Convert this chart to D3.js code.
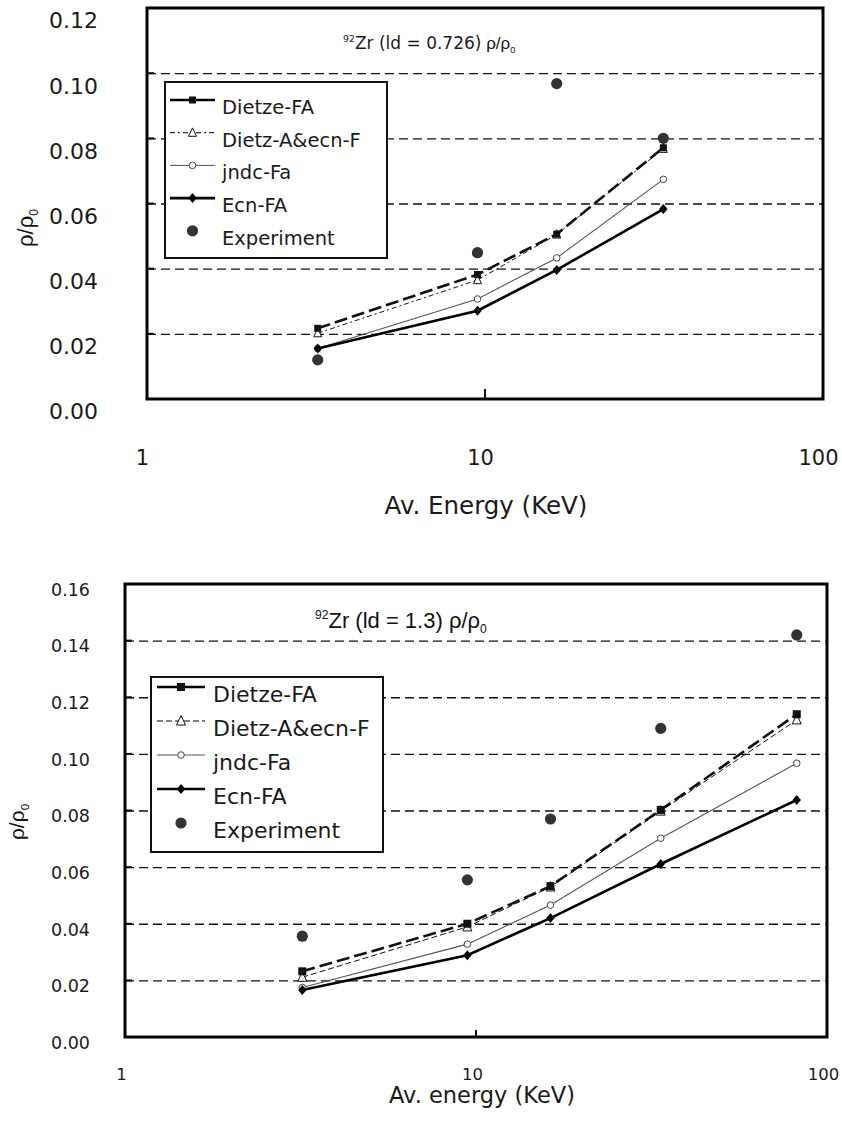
<!DOCTYPE html>
<html>
<head>
<meta charset="utf-8">
<script src="https://cdn.jsdelivr.net/npm/d3@7"></script>
<style>
  html, body { margin: 0; padding: 0; background: #fff; }
  svg { display: block; }
  .cg { font-family: "DejaVu Sans", sans-serif; fill: #1a1a1a; }
  .ar { font-family: "Liberation Sans", Arial, sans-serif; fill: #111; }
</style>
</head>
<body>
<svg id="chart" width="842" height="1122"></svg>
<script>
// ---- data: relative level density vs. average neutron energy, 92Zr ----
const xTicks = [1, 10, 100];

// Panel A: ld = 0.726
const energyA = [3.2, 9.5, 16.3, 33.7];
const dietzeFA_A = [0.0217, 0.0382, 0.0506, 0.0771];
const dietzA_A   = [0.0202, 0.0365, 0.0505, 0.0768];
const jndc_A     = [0.0155, 0.0307, 0.0433, 0.0674];
const ecn_A      = [0.0155, 0.0271, 0.0396, 0.0583];
const experiment_A = [0.0120, 0.0449, 0.0968, 0.0800];
const yTicksA = [0, 0.02, 0.04, 0.06, 0.08, 0.10, 0.12];

// Panel B: ld = 1.3
const energyB = [3.2, 9.45, 16.3, 33.6, 82];
const dietzeFA_B = [0.0232, 0.0400, 0.0533, 0.0802, 0.1140];
const dietzA_B   = [0.0211, 0.0389, 0.0530, 0.0798, 0.1120];
const jndc_B     = [0.0175, 0.0328, 0.0466, 0.0702, 0.0967];
const ecn_B      = [0.0166, 0.0289, 0.0420, 0.0611, 0.0837];
const experiment_B = [0.0356, 0.0555, 0.0770, 0.1090, 0.1420];
const yTicksB = [0, 0.02, 0.04, 0.06, 0.08, 0.10, 0.12, 0.14, 0.16];

const seriesNames = ["Dietze-FA", "Dietz-A&ecn-F", "jndc-Fa", "Ecn-FA", "Experiment"];

const svg = d3.select("#chart");

function drawPanel(p) {
  const x = d3.scaleLog().domain([1, 100]).range([p.left, p.right]);
  const y = d3.scaleLinear().domain([0, p.yMax]).range([p.bottom, p.top]);
  const g = svg.append("g");

  // dashed horizontal grid
  const grid = g.append("g")
    .attr("transform", `translate(${p.left},0)`)
    .call(d3.axisLeft(y).tickValues(p.yTicks.filter(t => t > 0 && t < p.yMax))
      .tickSize(-(p.right - p.left)).tickFormat(""));
  grid.select(".domain").remove();
  grid.selectAll("line").attr("stroke", "#111").attr("stroke-width", 1.3)
    .attr("stroke-dasharray", "9,5");

  // short inward tick marks on the left
  g.append("g").selectAll("line")
    .data(p.yTicks.filter(t => t > 0 && t < p.yMax)).join("line")
    .attr("x1", p.left).attr("x2", p.left + 7)
    .attr("y1", d => y(d)).attr("y2", d => y(d))
    .attr("stroke", "#111").attr("stroke-width", 2);

  // y tick labels
  const ya = g.append("g")
    .attr("transform", `translate(${p.yLabelX},0)`)
    .call(d3.axisLeft(y).tickValues(p.yTicks).tickFormat(d3.format(".2f")).tickSize(0).tickPadding(0));
  ya.select(".domain").remove();
  ya.selectAll("text").attr("class", "cg").attr("font-size", p.yTickFont)
    .attr("dy", "0.36em").attr("y", p.yLabelShift).attr("text-anchor", "end");

  // x tick labels
  const xa = g.append("g")
    .attr("transform", `translate(0,${p.xLabelY})`)
    .call(d3.axisBottom(x).tickValues(xTicks).tickFormat(d3.format("d")).tickSize(0).tickPadding(0));
  xa.select(".domain").remove();
  xa.selectAll("text").attr("class", "cg").attr("font-size", p.xTickFont)
    .attr("dy", "0.36em").attr("x", p.xLabelShift);

  // inward tick at 10 on the bottom axis
  g.append("line")
    .attr("x1", x(10)).attr("x2", x(10))
    .attr("y1", p.bottom).attr("y2", p.bottom - p.midTick)
    .attr("stroke", "#111").attr("stroke-width", 2);

  // frame
  g.append("rect")
    .attr("x", p.left).attr("y", p.top)
    .attr("width", p.right - p.left).attr("height", p.bottom - p.top)
    .attr("fill", "none").attr("stroke", "#000").attr("stroke-width", 3);

  // series lines
  const line = vals => d3.line().x((d, i) => x(p.energy[i])).y(d => y(d))(vals);
  g.append("path").attr("d", line(p.jndc)).attr("fill", "none")
    .attr("stroke", "#555").attr("stroke-width", 1.1);
  g.append("path").attr("d", line(p.ecn)).attr("fill", "none")
    .attr("stroke", "#000").attr("stroke-width", 2.6);
  g.append("path").attr("d", line(p.dietzeFA)).attr("fill", "none")
    .attr("stroke", "#111").attr("stroke-width", 2.6).attr("stroke-dasharray", "13,5");
  g.append("path").attr("d", line(p.dietzA)).attr("fill", "none")
    .attr("stroke", "#111").attr("stroke-width", 1).attr("stroke-dasharray", p.dietzADash);

  // markers
  const sq = p.sq, tri = p.tri;
  function square(sel, cx, cy) {
    sel.append("rect").attr("x", cx - sq / 2).attr("y", cy - sq / 2)
      .attr("width", sq).attr("height", sq).attr("fill", "#111");
  }
  function triangle(sel, cx, cy) {
    sel.append("path")
      .attr("d", `M${cx},${cy - tri * 0.6}L${cx + tri / 2},${cy + tri * 0.45}L${cx - tri / 2},${cy + tri * 0.45}Z`)
      .attr("fill", "#fff").attr("stroke", "#111").attr("stroke-width", 1);
  }
  function ring(sel, cx, cy) {
    sel.append("circle").attr("cx", cx).attr("cy", cy).attr("r", 3.3)
      .attr("fill", "#fff").attr("stroke", "#444").attr("stroke-width", 1);
  }
  function diamond(sel, cx, cy) {
    sel.append("path")
      .attr("d", `M${cx},${cy - 5}L${cx + 4.2},${cy}L${cx},${cy + 5}L${cx - 4.2},${cy}Z`)
      .attr("fill", "#000");
  }
  function dot(sel, cx, cy) {
    sel.append("circle").attr("cx", cx).attr("cy", cy).attr("r", 5.6).attr("fill", "#333");
  }

  const m = g.append("g");
  p.energy.forEach((e, i) => {
    ring(m, x(e), y(p.jndc[i]));
    diamond(m, x(e), y(p.ecn[i]));
    triangle(m, x(e), y(p.dietzA[i]));
    square(m, x(e), y(p.dietzeFA[i]));
    dot(m, x(e), y(p.experiment[i]));
  });

  // legend
  const L = p.legend;
  const lg = g.append("g");
  lg.append("rect").attr("x", L.x).attr("y", L.y).attr("width", L.w).attr("height", L.h)
    .attr("fill", "#fff").attr("stroke", "#111").attr("stroke-width", 2);
  const styles = [
    { w: 2.6, dash: null, mark: square },
    { w: 1, dash: p.dietzADash, mark: triangle },
    { w: 1, dash: null, mark: ring, color: "#555" },
    { w: 2.6, dash: null, mark: diamond },
    { w: 0, dash: null, mark: dot }
  ];
  seriesNames.forEach((name, i) => {
    const ly = L.row0 + i * L.step;
    const s = styles[i];
    if (s.w > 0) {
      lg.append("line").attr("x1", L.sx1).attr("x2", L.sx2).attr("y1", ly).attr("y2", ly)
        .attr("stroke", s.color || "#000").attr("stroke-width", s.w)
        .attr("stroke-dasharray", s.dash);
    }
    s.mark(lg, (L.sx1 + L.sx2) / 2, ly);
    lg.append("text").attr("class", "cg").attr("x", L.tx).attr("y", ly + 7)
      .attr("dy", "0.36em").attr("font-size", L.font).text(name);
  });

  // panel label
  const t = g.append("text").attr("x", p.title.x).attr("y", p.title.y)
    .attr("font-size", p.title.size);
  t.append("tspan").attr("class", p.title.cls).attr("font-size", p.title.size * 0.55)
    .attr("dy", -p.title.size * 0.4).text("92");
  t.append("tspan").attr("class", p.title.cls).attr("dy", p.title.size * 0.4).text(p.title.text);
  t.append("tspan").attr("class", "ar").text(" ρ/ρ");
  t.append("tspan").attr("class", "ar").attr("font-size", p.title.size * 0.55)
    .attr("dy", p.title.size * 0.22).text("0");

  // axis titles
  g.append("text").attr("class", "cg").attr("x", p.xTitle.x).attr("y", p.xTitle.y)
    .attr("text-anchor", "middle").attr("dy", "0.36em").attr("font-size", p.xTitle.size)
    .text(p.xTitle.text);
  const yt = g.append("text").attr("class", "ar")
    .attr("transform", `translate(${p.yTitle.x},${p.yTitle.y}) rotate(-90)`)
    .attr("text-anchor", "middle").attr("font-size", p.yTitle.size);
  yt.append("tspan").text("ρ/ρ");
  yt.append("tspan").attr("font-size", p.yTitle.size * 0.55).attr("dy", p.yTitle.size * 0.22).text("0");
}

drawPanel({
  left: 147, right: 823, top: 8, bottom: 399, yMax: 0.12, yTicks: yTicksA,
  yLabelX: 98, yLabelShift: 12, yTickFont: 22,
  xLabelY: 457, xLabelShift: -5, xTickFont: 21, midTick: 10,
  energy: energyA, dietzeFA: dietzeFA_A, dietzA: dietzA_A, jndc: jndc_A, ecn: ecn_A,
  experiment: experiment_A, dietzADash: "5,3,2,3", sq: 7, tri: 8,
  legend: { x: 165, y: 82, w: 222, h: 176, row0: 100, step: 32.7, sx1: 170, sx2: 215, tx: 222, font: 19.5 },
  title: { x: 343, y: 49, size: 17, cls: "cg", text: "Zr (ld = 0.726)" },
  xTitle: { x: 486, y: 505, size: 24.5, text: "Av. Energy (KeV)" },
  yTitle: { x: 33, y: 228, size: 22 }
});

drawPanel({
  left: 125, right: 827, top: 584, bottom: 1037, yMax: 0.16, yTicks: yTicksB,
  yLabelX: 90, yLabelShift: 5, yTickFont: 17.5,
  xLabelY: 1074, xLabelShift: -4, xTickFont: 16.5, midTick: 7,
  energy: energyB, dietzeFA: dietzeFA_B, dietzA: dietzA_B, jndc: jndc_B, ecn: ecn_B,
  experiment: experiment_B, dietzADash: "6,3", sq: 8, tri: 9,
  legend: { x: 151, y: 677, w: 232, h: 175, row0: 687, step: 34, sx1: 157, sx2: 205, tx: 213, font: 22 },
  title: { x: 315, y: 628, size: 22, cls: "ar", text: "Zr (ld = 1.3)" },
  xTitle: { x: 482, y: 1095, size: 22.5, text: "Av. energy (KeV)" },
  yTitle: { x: 24, y: 822, size: 21 }
});
</script>
</body>
</html>
